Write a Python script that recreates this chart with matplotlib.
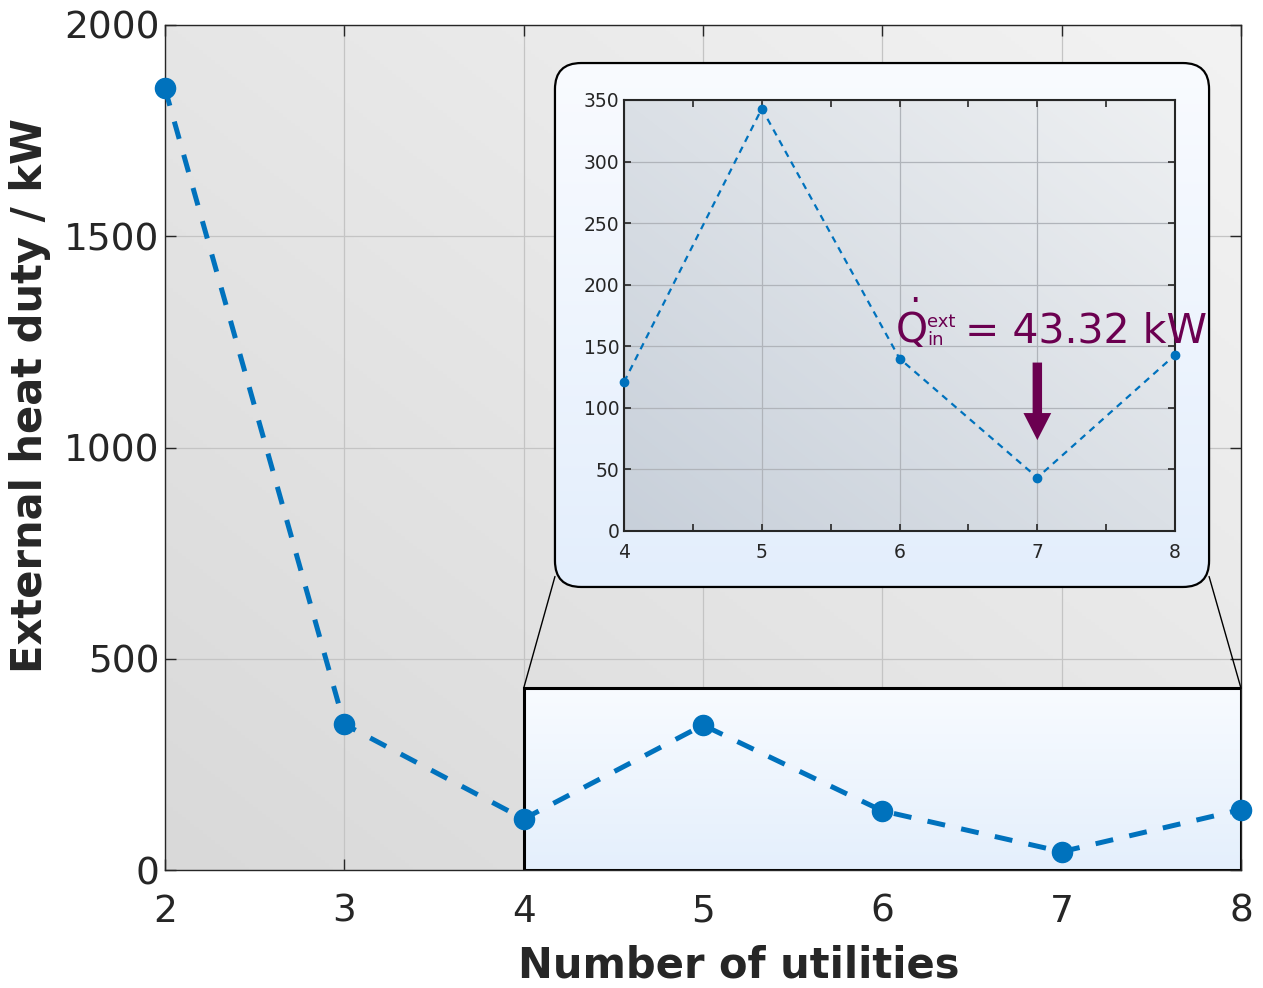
import numpy as np
import matplotlib
matplotlib.use("Agg")
import matplotlib.pyplot as plt
from matplotlib.patches import FancyBboxPatch, Rectangle, ConnectionPatch, FancyArrowPatch

# ---- data ----
utilities = [2, 3, 4, 5, 6, 7, 8]
heat_duty = [1850, 345, 121, 343, 140, 43.32, 143]
zoom_x = [4, 5, 6, 7, 8]
zoom_y = [121, 343, 140, 43.32, 143]
main_xticks = [2, 3, 4, 5, 6, 7, 8]
main_yticks = [0, 500, 1000, 1500, 2000]
inset_yticks = [0, 50, 100, 150, 200, 250, 300, 350]
min_value_text = "= 43.32 kW"

plt.rcParams['font.family'] = ['DejaVu Sans']
plt.rcParams['mathtext.fontset'] = 'dejavusans'
TXT = '#262626'
BLUE = '#0072BD'
PURPLE = '#6B0050'

fig = plt.figure(figsize=(12.63, 9.88), dpi=100)
ax = fig.add_axes([0.1306, 0.1194, 0.8520, 0.8553])

def grad(c0, c1, n=256, diag=True):
    c0 = np.array(matplotlib.colors.to_rgb(c0)); c1 = np.array(matplotlib.colors.to_rgb(c1))
    xx, yy = np.meshgrid(np.linspace(0, 1, n), np.linspace(0, 1, n))
    t = (xx + yy) / 2 if diag else yy
    return c0[None, None, :] * (1 - t[..., None]) + c1[None, None, :] * t[..., None]

# main background gradient
ax.imshow(grad('#d9d9d9', '#f3f3f3'), extent=[0, 1, 0, 1], transform=ax.transAxes,
          origin='lower', aspect='auto', zorder=0)
ax.set_axisbelow(True)
ax.grid(True, color='#c4c4c4', lw=0.9)

# highlighted zoom region
zr = Rectangle((4, 0), 4, 430, fill=False, ec='black', lw=2.2, zorder=2.5)
ax.add_patch(zr)
im = ax.imshow(grad('#e4effc', '#f8fbff', diag=False), extent=[4, 8, 0, 430],
               origin='lower', aspect='auto', zorder=2)
im.set_clip_path(zr)

ax.plot(utilities, heat_duty, ls=(0, (3.6, 3.3)), lw=3.6, color=BLUE, marker='o',
        ms=14.5, zorder=3, clip_on=False)

ax.set_xlim(2, 8)
ax.set_ylim(0, 2000)
ax.set_xticks(main_xticks)
ax.set_yticks(main_yticks)
ax.tick_params(direction='in', top=True, right=True, labelsize=27, colors=TXT,
               length=8, width=1)
ax.tick_params(axis='x', pad=17)
ax.tick_params(axis='y', pad=4)
for s in ax.spines.values():
    s.set_color(TXT); s.set_linewidth(1.0)
ax.set_xlabel('Number of utilities', fontsize=30, fontweight='bold', color=TXT, labelpad=8)
ax.xaxis.set_label_coords(0.533, -0.088)
ax.set_ylabel('External heat duty / kW', fontsize=30, fontweight='bold', color=TXT)
ax.yaxis.set_label_coords(-0.106, 0.562)

# inset box (rounded, gradient)
bx = fig.add_axes([0.4394, 0.4059, 0.5179, 0.5303])
bx.set_xlim(0, 1); bx.set_ylim(0, 1); bx.axis('off')
box = FancyBboxPatch((0.0, 0.0), 1.0, 1.0, boxstyle='round,pad=0,rounding_size=0.04',
                     fc='none', ec='black', lw=1.6, transform=bx.transAxes,
                     mutation_aspect=654 / 524, zorder=3, clip_on=False)
bx.add_patch(box)
bim = bx.imshow(grad('#e3eefc', '#f9fbff', diag=False), extent=[0, 1, 0, 1],
                origin='lower', aspect='auto', zorder=1)
bim.set_clip_path(box)

# connector lines
for xa, xb in [(4, 0.0), (8, 1.0)]:
    cp = ConnectionPatch(xyA=(xa, 430), coordsA=ax.transData, xyB=(xb, 0.02),
                         coordsB=bx.transAxes, color='black', lw=1.0, zorder=1)
    fig.add_artist(cp)

# inset axes
ia = fig.add_axes([0.4941, 0.4626, 0.4363, 0.4362])
ia.imshow(grad('#c8d0da', '#eef0f2'), extent=[0, 1, 0, 1], transform=ia.transAxes,
          origin='lower', aspect='auto', zorder=0)
ia.set_axisbelow(True)
ia.grid(True, color='#b0b4ba', lw=0.9)
ia.plot(zoom_x, zoom_y, ls=(0, (3, 2.5)), lw=1.6, color=BLUE, marker='o', ms=6,
        zorder=3, clip_on=False)
ia.set_xlim(4, 8)
ia.set_ylim(0, 350)
ia.set_xticks(zoom_x)
ia.set_xticks(np.arange(4.5, 8, 1.0), minor=True)
ia.set_yticks(inset_yticks)
ia.tick_params(which='both', direction='in', top=True, right=True, labelsize=13.5,
               colors=TXT, length=5, width=1.2)
ia.tick_params(axis='x', which='both', pad=9)
for s in ia.spines.values():
    s.set_color(TXT); s.set_linewidth(1.5)

arrow = FancyArrowPatch((7, 139), (7, 71.5),
                        arrowstyle='simple,head_length=1.95,head_width=2.0,tail_width=0.68',
                        mutation_scale=10, color=PURPLE, lw=0, zorder=5)
ia.add_patch(arrow)

anchor = (5.967, 152.7)
common = dict(xy=anchor, xycoords='data', textcoords='offset points', color=PURPLE,
              va='baseline', annotation_clip=False, zorder=6)
ia.annotate(r'$\dot{\mathrm{Q}}$', xytext=(0, 0), fontsize=29.5, ha='left', **common)
ia.annotate('ext', xytext=(23, 11.5), fontsize=13, ha='left', **common)
ia.annotate('in', xytext=(23, -1.5), fontsize=13, ha='left', **common)
ia.annotate(min_value_text, xytext=(50.4, 0), fontsize=29.5, ha='left', **common)

fig.savefig('out.png', dpi=100)
